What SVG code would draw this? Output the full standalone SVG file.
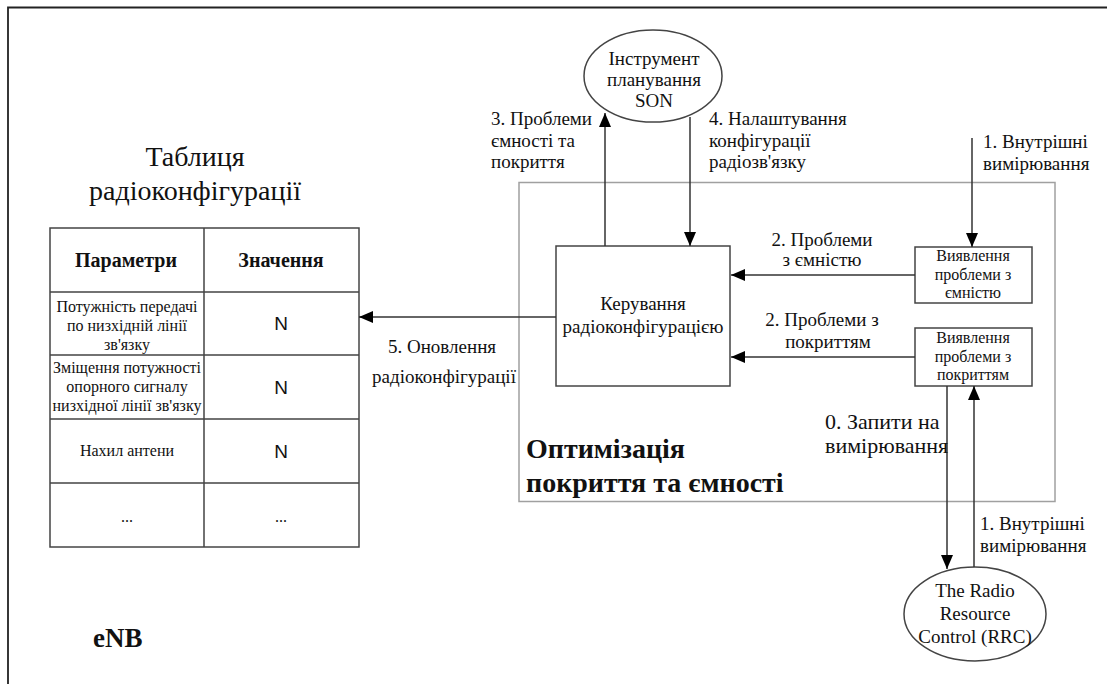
<svg xmlns="http://www.w3.org/2000/svg" width="1107" height="684" viewBox="0 0 1107 684">
<style>
text{font-family:"Liberation Serif","Times New Roman",serif;fill:#111}
.lbl{font-size:19px}
.box{font-size:16px}
.tbl{font-size:16px}
.b{font-weight:bold}
.n{font-family:"Liberation Sans",Arial,sans-serif;font-size:19px}
.c{text-anchor:middle}
.shape{fill:#fff;stroke:#444;stroke-width:1.5}
.conn{fill:none;stroke:#333;stroke-width:1.5}
.grid{fill:none;stroke:#444;stroke-width:1.5}
</style>
<defs>
<marker id="ah" markerUnits="userSpaceOnUse" markerWidth="14" markerHeight="12" viewBox="0 0 14 12" refX="14" refY="6" orient="auto">
<path d="M0,0 L14,6 L0,12 Z" fill="#000"/>
</marker>
</defs>
<rect width="1107" height="684" fill="#fff"/>
<path d="M8,684 V7.5 H1107" fill="none" stroke="#222" stroke-width="1.8"/>

<g id="cco-container">
<rect x="519" y="182.5" width="536" height="319" fill="none" stroke="#a0a0a0" stroke-width="1.5"/>
<text class="b" x="526" y="458" font-size="28">Оптимізація</text>
<text class="b" x="526" y="492" font-size="28">покриття та ємності</text>
</g>

<g id="enb-label">
<text class="b" x="93" y="647" font-size="27">eNB</text>
</g>

<g id="radio-config-table">
<text class="c" x="195" y="166" font-size="28">Таблиця</text>
<text class="c" x="195" y="200" font-size="28">радіоконфігурації</text>
<rect class="grid" x="50" y="228" width="309" height="319"/>
<path class="grid" d="M204,228 V547 M50,292 H359 M50,355 H359 M50,419 H359 M50,483 H359"/>
<text class="c b" x="126" y="267" font-size="20">Параметри</text>
<text class="c b" x="281" y="267" font-size="20">Значення</text>
<text class="c tbl" x="127" y="312">Потужність передачі</text>
<text class="c tbl" x="127" y="331">по низхідній лінії</text>
<text class="c tbl" x="127" y="350">зв'язку</text>
<text class="c tbl" x="127" y="373">Зміщення потужності</text>
<text class="c tbl" x="127" y="392">опорного сигналу</text>
<text class="c tbl" x="127" y="411">низхідної лінії зв'язку</text>
<text class="c tbl" x="127" y="456">Нахил антени</text>
<text class="c tbl" x="127" y="522">...</text>
<text class="c n" x="281" y="330">N</text>
<text class="c n" x="281" y="394">N</text>
<text class="c n" x="281" y="458">N</text>
<text class="c tbl" x="281" y="522">...</text>
</g>

<g id="son-planning-tool">
<ellipse class="shape" cx="653" cy="76" rx="69" ry="46"/>
<text class="c lbl" x="654" y="65">Інструмент</text>
<text class="c lbl" x="654" y="86">планування</text>
<text class="c lbl" x="654" y="107">SON</text>
</g>

<g id="radio-config-control">
<rect class="shape" x="556" y="246" width="174" height="140"/>
<text class="c lbl" x="643" y="310">Керування</text>
<text class="c lbl" x="643" y="333">радіоконфігурацією</text>
</g>

<g id="capacity-detection">
<rect class="shape" x="915" y="247" width="117" height="56"/>
<text class="c box" x="973" y="261">Виявлення</text>
<text class="c box" x="973" y="280">проблеми з</text>
<text class="c box" x="973" y="298">ємністю</text>
</g>

<g id="coverage-detection">
<rect class="shape" x="915" y="328" width="117" height="58"/>
<text class="c box" x="973" y="343">Виявлення</text>
<text class="c box" x="973" y="362">проблеми з</text>
<text class="c box" x="973" y="380">покриттям</text>
</g>

<g id="rrc">
<ellipse class="shape" cx="975" cy="614" rx="71" ry="47"/>
<text class="c lbl" x="975" y="597">The Radio</text>
<text class="c lbl" x="975" y="620">Resource</text>
<text class="c lbl" x="975" y="643">Control (RRC)</text>
</g>

<g id="connectors">
<path class="conn" d="M605,246 V113" marker-end="url(#ah)"/>
<path class="conn" d="M690,117 V246" marker-end="url(#ah)"/>
<path class="conn" d="M972,138 V247" marker-end="url(#ah)"/>
<path class="conn" d="M915,275 H731" marker-end="url(#ah)"/>
<path class="conn" d="M915,357 H731" marker-end="url(#ah)"/>
<path class="conn" d="M556,317 H359" marker-end="url(#ah)"/>
<path class="conn" d="M947,386 V569" marker-end="url(#ah)"/>
<path class="conn" d="M974,567 V386" marker-end="url(#ah)"/>
<text class="lbl" x="491" y="125">3. Проблеми</text>
<text class="lbl" x="491" y="147">ємності та</text>
<text class="lbl" x="491" y="168">покриття</text>
<text class="lbl" x="709" y="125">4. Налаштування</text>
<text class="lbl" x="709" y="147">конфігурації</text>
<text class="lbl" x="709" y="168">радіозв'язку</text>
<text class="lbl" x="983" y="148">1. Внутрішні</text>
<text class="lbl" x="983" y="170">вимірювання</text>
<text class="c lbl" x="822" y="246">2. Проблеми</text>
<text class="c lbl" x="822" y="266">з ємністю</text>
<text class="c lbl" x="822" y="326">2. Проблеми з</text>
<text class="c lbl" x="828" y="348">покриттям</text>
<text class="c lbl" x="442" y="353">5. Оновлення</text>
<text class="c lbl" x="444" y="383">радіоконфігурації</text>
<text x="825" y="429" font-size="22">0. Запити на</text>
<text x="825" y="453" font-size="22">вимірювання</text>
<text class="lbl" x="980" y="530">1. Внутрішні</text>
<text class="lbl" x="980" y="552">вимірювання</text>
</g>
</svg>
